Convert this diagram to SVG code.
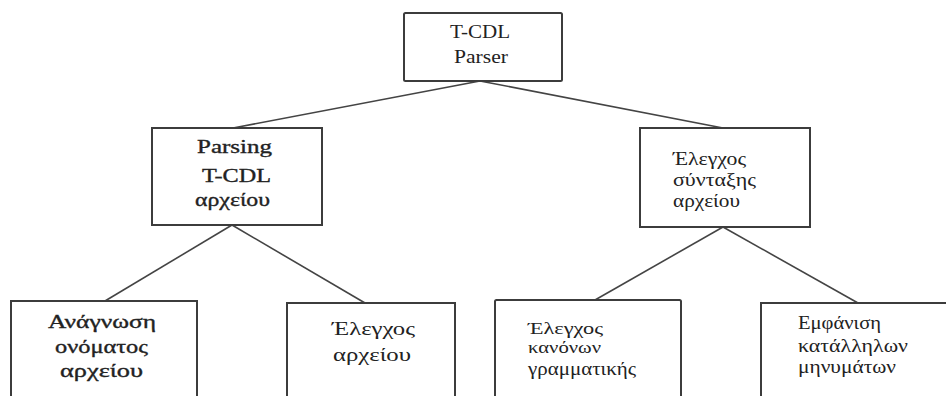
<svg xmlns="http://www.w3.org/2000/svg" width="946" height="396" viewBox="0 0 946 396" font-family="Liberation Serif, DejaVu Serif, Times New Roman, serif">
<style>
.box{fill:#fff;stroke:#3c3c3c;stroke-width:2}
.ln{stroke:#444;stroke-width:1.6;fill:none}
.t{font-size:19px;fill:#222}
.sb{stroke:#222;stroke-width:0.35}
.sm{font-size:17px}
</style>
<rect width="946" height="396" fill="#fff"/>
<g id="connectors">
<line class="ln" x1="480" y1="81" x2="233" y2="128"/>
<line class="ln" x1="480" y1="81" x2="723" y2="128"/>
<line class="ln" x1="232" y1="225" x2="105" y2="301"/>
<line class="ln" x1="232" y1="225" x2="365" y2="303"/>
<line class="ln" x1="723" y1="227" x2="595" y2="300"/>
<line class="ln" x1="723" y1="227" x2="858" y2="303"/>
</g>
<g id="root">
<rect class="box" x="404" y="13" width="158" height="68" rx="1.5"/>
<text class="t" x="450" y="38" textLength="60" lengthAdjust="spacingAndGlyphs">T-CDL</text>
<text class="t" x="454" y="63" textLength="54" lengthAdjust="spacingAndGlyphs">Parser</text>
</g>
<g id="parsing">
<rect class="box" x="152" y="128" width="170" height="97"/>
<text class="t sb" x="197" y="153" textLength="75" lengthAdjust="spacingAndGlyphs">Parsing</text>
<text class="t sb" x="202" y="182" textLength="69" lengthAdjust="spacingAndGlyphs">T-CDL</text>
<text class="t sb" x="195" y="206" textLength="75" lengthAdjust="spacingAndGlyphs">αρχείου</text>
</g>
<g id="syntax">
<rect class="box" x="640" y="128" width="170" height="99"/>
<text class="t" x="673" y="165" textLength="73" lengthAdjust="spacingAndGlyphs">Έλεγχος</text>
<text class="t" x="673" y="186" textLength="83" lengthAdjust="spacingAndGlyphs">σύνταξης</text>
<text class="t" x="673" y="207" textLength="67" lengthAdjust="spacingAndGlyphs">αρχείου</text>
</g>
<g id="readname">
<rect class="box" x="11" y="301" width="186" height="110"/>
<text class="t sb" x="48" y="328" textLength="108" lengthAdjust="spacingAndGlyphs">Ανάγνωση</text>
<text class="t sb" x="55" y="353" textLength="93" lengthAdjust="spacingAndGlyphs">ονόματος</text>
<text class="t sb" x="60" y="377" textLength="83" lengthAdjust="spacingAndGlyphs">αρχείου</text>
</g>
<g id="checkfile">
<rect class="box" x="287" y="303" width="168" height="110"/>
<text class="t" x="332" y="335" textLength="83" lengthAdjust="spacingAndGlyphs">Έλεγχος</text>
<text class="t" x="333" y="361" textLength="78" lengthAdjust="spacingAndGlyphs">αρχείου</text>
</g>
<g id="grammar">
<rect class="box" x="495" y="300" width="186" height="110" rx="1.5"/>
<text class="t sm" x="528" y="334" textLength="75" lengthAdjust="spacingAndGlyphs">Έλεγχος</text>
<text class="t sm" x="528" y="353" textLength="73" lengthAdjust="spacingAndGlyphs">κανόνων</text>
<text class="t" x="528" y="375" textLength="108" lengthAdjust="spacingAndGlyphs">γραμματικής</text>
</g>
<g id="messages">
<rect class="box" x="761" y="303" width="190" height="110"/>
<text class="t" x="798" y="329" textLength="83" lengthAdjust="spacingAndGlyphs">Εμφάνιση</text>
<text class="t" x="798" y="352" textLength="110" lengthAdjust="spacingAndGlyphs">κατάλληλων</text>
<text class="t" x="798" y="373" textLength="98" lengthAdjust="spacingAndGlyphs">μηνυμάτων</text>
</g>
</svg>
